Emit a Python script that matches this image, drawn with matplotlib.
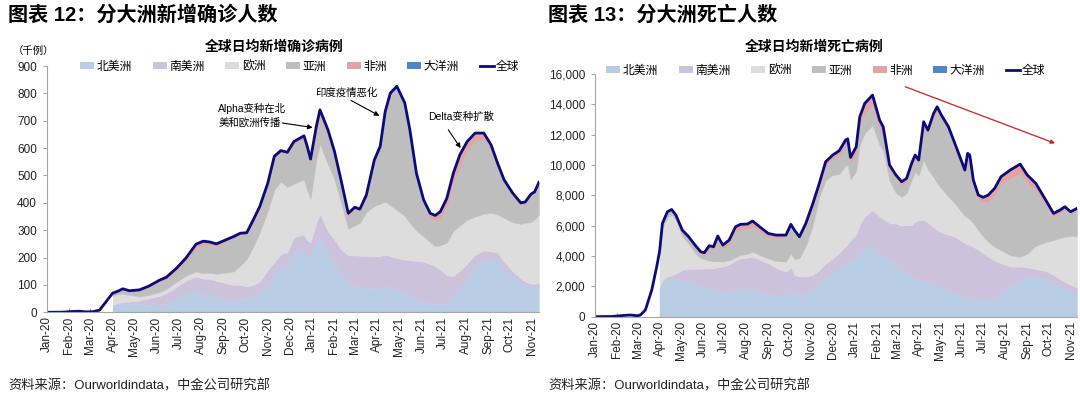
import matplotlib
matplotlib.use("Agg")
import matplotlib.pyplot as plt
import matplotlib.dates as mdates
from matplotlib.patches import Patch
from matplotlib.lines import Line2D
from matplotlib.ticker import FuncFormatter, MultipleLocator
import pandas as pd

plt.rcParams['font.family'] = ['Liberation Sans', 'Noto Sans CJK SC', 'DejaVu Sans']

# ---------------- new cases (thousands) ----------------
cases_pre_dates = ["2020-01-01", "2020-01-22", "2020-02-05", "2020-02-15", "2020-02-25",
                   "2020-03-05", "2020-03-14", "2020-03-23"]
cases_pre_global = [0, 0.5, 3, 4, 1.5, 2.5, 8, 39]

cases_dates = [
    "2020-04-01", "2020-04-08", "2020-04-15", "2020-04-24", "2020-05-08", "2020-05-21",
    "2020-06-05", "2020-06-14", "2020-06-28", "2020-07-11", "2020-07-25", "2020-08-04",
    "2020-08-13", "2020-08-22", "2020-09-06", "2020-09-15", "2020-09-24", "2020-10-03",
    "2020-10-12", "2020-10-21", "2020-11-01", "2020-11-10", "2020-11-19", "2020-11-28",
    "2020-12-07", "2020-12-21", "2020-12-25", "2020-12-30", "2021-01-07", "2021-01-12",
    "2021-01-23", "2021-02-01", "2021-02-10", "2021-02-20", "2021-03-01", "2021-03-08",
    "2021-03-17", "2021-03-28", "2021-04-05", "2021-04-12", "2021-04-19", "2021-04-28",
    "2021-05-09", "2021-05-16", "2021-05-25", "2021-06-04", "2021-06-13", "2021-06-20",
    "2021-06-27", "2021-07-06", "2021-07-15", "2021-07-24", "2021-08-03", "2021-08-14",
    "2021-08-26", "2021-09-05", "2021-09-14", "2021-09-23", "2021-10-05", "2021-10-16",
    "2021-10-22", "2021-10-30", "2021-11-04", "2021-11-10"]
cases_global = [70, 77, 86, 79, 82, 96, 118, 128, 161, 198, 249, 260, 257, 250, 267, 277, 289,
                291, 338, 387, 472, 570, 591, 585, 624, 645, 610, 560,
                680, 740, 667, 588, 484, 362, 384, 377, 429, 557, 606, 734, 801, 826, 765, 667,
                509, 411, 362, 354, 368, 417, 509, 576, 624, 655, 655, 612, 545, 484, 435, 400,
                403, 432, 440, 475]
cases_na = [25, 31, 32, 32, 29, 26, 25, 30, 48, 66, 75, 65, 62, 55, 45, 42, 48, 50, 55, 68,
            110, 140, 170, 170, 220, 230, 210, 200,
            255, 275, 210, 180, 140, 110, 100, 95, 90, 88, 90, 94, 90, 82, 72, 63, 50, 39, 32,
            28, 30, 40, 55, 90, 130, 170, 190, 192, 190, 160, 130, 110, 100, 92, 90, 92]
cases_sa = [2, 3, 5, 7, 14, 25, 35, 40, 45, 50, 55, 58, 60, 60, 60, 58, 52, 45, 45, 45,
            45, 42, 43, 48, 55, 55, 54, 55,
            72, 85, 85, 86, 90, 98, 108, 112, 116, 116, 116, 116, 116, 116, 120, 128, 138, 146,
            145, 140, 125, 95, 78, 62, 48, 40, 36, 31, 28, 24, 19, 13, 12, 13, 14, 15]
cases_eu = [32, 33, 30, 25, 15, 12, 14, 15, 18, 18, 19, 20, 22, 26, 40, 50, 70, 100, 140, 180,
            215, 265, 265, 240, 195, 200, 185, 160,
            230, 255, 245, 219, 170, 97, 110, 120, 160, 185, 190, 195, 185, 176, 160, 135, 110,
            92, 80, 73, 90, 120, 165, 165, 160, 140, 134, 140, 140, 160, 180, 200, 215, 225,
            235, 250]
cases_as = [10, 9, 18, 13, 21, 30, 39, 37, 41, 52, 86, 105, 103, 101, 116, 122, 114, 91, 93, 89,
            96, 117, 107, 120, 145, 148, 148, 131,
            101, 99, 105, 85, 70, 46, 57, 42, 55, 160, 202, 321, 403, 446, 407, 335, 204, 124,
            90, 95, 101, 134, 176, 221, 254, 277, 273, 234, 175, 131, 100, 72, 72, 98, 97, 114]
cases_af = [1, 1, 1.2, 1.5, 2.5, 3, 5, 6, 9, 12, 14, 12, 10, 8, 6, 5, 5, 5, 5, 5,
            6, 6, 6, 7, 9, 12, 13, 14,
            22, 26, 22, 18, 14, 11, 9, 8, 8, 8, 8, 8, 7, 6, 6, 6, 7, 10, 15, 18, 22, 28, 35, 38,
            32, 28, 22, 15, 12, 9, 6, 5, 4, 4, 4, 4]
cases_oc = [0.3, 0.3, 0.2, 0.1, 0.05, 0.02, 0.02, 0.02, 0.1, 0.2, 0.5, 0.6, 0.5, 0.3, 0.1, 0.05,
            0.03, 0.02, 0.02, 0.02, 0.02, 0.02, 0.02, 0.02, 0.05, 0.05, 0.05, 0.05,
            0.1, 0.1, 0.1, 0.1, 0.1, 0.1, 0.2, 0.3, 0.4, 0.4, 0.3, 0.2, 0.2, 0.2, 0.2, 0.2, 0.2,
            0.1, 0.1, 0.1, 0.1, 0.3, 0.6, 0.8, 1.0, 1.5, 1.8, 2.0, 2.2, 2.5, 2.6, 2.8, 2.7, 2.5,
            2.4, 2.3]

# ---------------- new deaths ----------------
deaths_pre_dates = ["2020-01-01", "2020-01-25", "2020-02-10", "2020-02-20", "2020-03-01",
                    "2020-03-05", "2020-03-12", "2020-03-21", "2020-03-28"]
deaths_pre_global = [0, 15, 80, 110, 60, 110, 440, 1760, 3300]

deaths_dates = [
    "2020-04-01", "2020-04-05", "2020-04-12", "2020-04-18", "2020-04-24", "2020-05-03",
    "2020-05-12", "2020-05-21", "2020-05-29", "2020-06-03", "2020-06-10", "2020-06-16",
    "2020-06-22", "2020-06-29", "2020-07-08", "2020-07-17", "2020-07-24", "2020-08-03",
    "2020-08-10", "2020-08-20", "2020-09-01", "2020-09-12", "2020-09-26", "2020-10-03",
    "2020-10-08", "2020-10-15", "2020-10-24", "2020-11-03", "2020-11-12", "2020-11-21",
    "2020-12-01", "2020-12-10", "2020-12-19", "2020-12-22", "2020-12-26",
    "2021-01-03", "2021-01-08", "2021-01-15", "2021-01-26", "2021-02-05", "2021-02-10",
    "2021-02-19", "2021-02-28", "2021-03-08", "2021-03-15", "2021-03-22", "2021-03-27",
    "2021-04-01", "2021-04-08", "2021-04-14", "2021-04-22", "2021-04-27", "2021-05-03",
    "2021-05-13", "2021-05-22", "2021-05-29", "2021-06-05", "2021-06-09", "2021-06-12",
    "2021-06-17", "2021-06-24", "2021-07-01", "2021-07-08", "2021-07-17", "2021-07-26",
    "2021-08-08", "2021-08-22", "2021-09-01", "2021-09-13", "2021-09-27", "2021-10-08",
    "2021-10-17", "2021-10-24", "2021-11-01", "2021-11-10"]
deaths_global = [4300, 6150, 6920, 7070, 6700, 5710, 5270, 4720, 4280, 4220, 4680, 4610, 5320,
                 4720, 5050, 5930, 6090, 6110, 6310, 5930, 5490, 5380, 5380, 6090, 5710, 5270,
                 6150, 7470, 8790, 10220, 10660, 10940, 11640, 11730, 10500,
                 11200, 13180, 14060, 14610, 12960, 12520, 10000, 9340, 8900, 9120, 10100,
                 10660, 10330, 12850, 12300, 13400, 13840, 13290, 12520, 11420, 10550, 9670,
                 10770, 10660, 9010, 8020, 7870, 8020, 8460, 9230, 9670, 10060, 9340, 8790,
                 7690, 6810, 7030, 7250, 6920, 7140]
deaths_na = [1800, 2300, 2500, 2530, 2500, 2420, 2300, 2150, 2000, 1980, 1850, 1750, 1700, 1650,
             1650, 1800, 1870, 1800, 1760, 1650, 1540, 1470, 1430, 1900, 1500, 1500, 1560, 1800,
             2200, 2600, 2900, 3200, 3500, 3600, 3730,
             3900, 4300, 4500, 4610, 4170, 4000, 3700, 3500, 3100, 2850, 2640, 2550, 2500, 2420,
             2300, 2100, 1980, 1850, 1700, 1540, 1400, 1300, 1260, 1240, 1210, 1150, 1100, 1150,
             1300, 1540, 2000, 2420, 2600, 2640, 2500, 2200, 2000, 1850, 1700, 1540]
deaths_sa = [100, 120, 150, 200, 350, 660, 850, 1000, 1150, 1210, 1350, 1450, 1550, 1650, 1800,
             1900, 1970, 2100, 2190, 2100, 1980, 1750, 1540, 1350, 1250, 1150, 1100, 950, 880,
             900, 950, 1000, 1150, 1200, 1320,
             1500, 1800, 2100, 2420, 2420, 2450, 2450, 2640, 2900, 3200, 3400, 3700, 3850, 3950,
             3900, 3800, 3730, 3700, 3700, 3730, 3650, 3550, 3500, 3480, 3400, 3250, 3070, 2800,
             2400, 1980, 1300, 880, 650, 500, 520, 550, 480, 430, 400, 380]
deaths_eu = [2200, 3400, 3900, 4000, 3500, 2200, 1650, 1050, 700, 600, 500, 450, 400, 330, 260,
             230, 220, 250, 330, 320, 320, 450, 660, 900, 1050, 1200, 2000, 3300, 4800, 5500,
             5500, 5200, 5300, 5200, 4000,
             4200, 5200, 5500, 5600, 4700, 4500, 2800, 2000, 1900, 2100, 2970, 3300, 2950, 3960,
             3500, 3300, 3080, 2900, 2500, 2200, 2000, 1800, 1750, 1700, 1540, 1300, 1100, 1000,
             900, 870, 750, 650, 900, 1530, 1900, 2300, 2700, 3000, 3200, 3400]
deaths_as = [170, 290, 320, 280, 280, 350, 380, 410, 300, 290, 820, 780, 1470, 860, 1070, 1680,
             1690, 1630, 1720, 1570, 1420, 1530, 1620, 1820, 1790, 1300, 1360, 1270, 740, 1020,
             1080, 1280, 1370, 1390, 1070,
             1150, 1330, 1340, 1320, 1070, 1020, 670, 950, 780, 750, 870, 890, 820, 2300, 2380,
             3980, 4830, 4630, 4420, 3750, 3300, 2810, 4040, 4010, 2610, 2020, 2270, 2650, 3360,
             4400, 5060, 5510, 4680, 3700, 2460, 1540, 1660, 1810, 1480, 1700]
deaths_af = [30, 40, 50, 60, 70, 80, 90, 110, 130, 140, 160, 180, 200, 230, 270, 320, 340, 320,
             300, 280, 220, 170, 130, 120, 120, 120, 130, 150, 170, 200, 230, 260, 320, 340, 380,
             450, 550, 620, 660, 600, 550, 380, 250, 220, 220, 220, 220, 210, 220, 220, 220, 220,
             210, 200, 200, 200, 210, 220, 230, 250, 300, 330, 420, 500, 440, 550, 590, 500, 400,
             280, 200, 160, 140, 120, 110]
deaths_oc = [2, 3, 4, 3, 2, 1, 0, 0, 0, 0, 0, 0, 0, 0, 0, 1, 2, 6, 10, 15, 15, 10, 5, 2, 2, 2, 2,
             2, 2, 1, 1, 1, 1, 1, 1,
             1, 1, 1, 1, 1, 1, 1, 1, 1, 1, 1, 1, 1, 1, 1, 1, 1, 1, 1, 1, 1, 1, 1, 1, 1, 1, 1, 1,
             2, 3, 5, 10, 15, 20, 25, 25, 25, 20, 15, 15]

labels = ["北美洲", "南美洲", "欧洲", "亚洲", "非洲", "大洋洲"]
colors = ["#B8CCE4", "#CDC2DC", "#DDDDDD", "#BEBEBE", "#E2A3A3", "#4F86C6"]
NAVY = "#0B0B7E"
AXIS_GREY = "#A6A6A6"
X_START, X_END = pd.Timestamp("2020-01-01"), pd.Timestamp("2021-11-10")


def draw_panel(ax, pre_dates, pre_total, dates, series, total):
    x = pd.to_datetime(dates)
    lower = [0.0] * len(dates)
    for vals, c in zip(series, colors):
        upper = [a + b for a, b in zip(lower, vals)]
        ax.fill_between(x, lower, upper, facecolor=c, edgecolor=c, lw=0.3, zorder=2)
        lower = upper
    ax.plot(pd.to_datetime(pre_dates + dates), pre_total + total,
            color=NAVY, lw=2.0, zorder=4, solid_joinstyle='round')

    ax.set_xlim(X_START, X_END)
    ax.xaxis.set_major_locator(mdates.MonthLocator())
    ax.xaxis.set_major_formatter(mdates.DateFormatter('%b-%y'))
    for s in ['top', 'right']:
        ax.spines[s].set_visible(False)
    for s in ['left', 'bottom']:
        ax.spines[s].set_color(AXIS_GREY)
        ax.spines[s].set_linewidth(0.8)
        ax.spines[s].set_zorder(5)
    ax.tick_params(axis='x', direction='in', length=3, color=AXIS_GREY,
                   labelsize=8.5, labelrotation=90, pad=3, labelcolor='#222222')
    ax.tick_params(axis='y', direction='out', length=3, color=AXIS_GREY,
                   labelsize=8.5, pad=4, labelcolor='#222222')


def add_legend(fig, cx, cy):
    handles = [Patch(facecolor=c, edgecolor='none') for c in colors]
    handles.append(Line2D([0], [0], color=NAVY, lw=2))
    fig.legend(handles, labels + ["全球"], loc='center', bbox_to_anchor=(cx, cy), ncol=7,
               frameon=False, fontsize=8.5, handlelength=1.2, handleheight=0.5,
               handletextpad=0.2, columnspacing=1.75, borderpad=0)


fig = plt.figure(figsize=(10.8, 3.97), dpi=100)

# ---- left: cases ----
ax1 = fig.add_axes([0.0432, 0.2133, 0.4558, 0.6204])
draw_panel(ax1, cases_pre_dates, cases_pre_global, cases_dates,
           [cases_na, cases_sa, cases_eu, cases_as, cases_af, cases_oc], cases_global)
ax1.set_ylim(0, 900)
ax1.yaxis.set_major_locator(MultipleLocator(100))

arrow_k = dict(arrowstyle='-|>', color='black', lw=0.8, mutation_scale=7, shrinkA=0, shrinkB=0)
ax1.text(pd.Timestamp("2020-08-25"), 720, "Alpha变种在北\n美和欧洲传播", fontsize=7.5,
         ha='left', va='center', linespacing=1.35, zorder=6)
ax1.annotate("", xy=(pd.Timestamp("2021-01-02"), 675), xytext=(pd.Timestamp("2020-11-21"), 692),
             arrowprops=arrow_k, zorder=6)
ax1.text(pd.Timestamp("2021-02-18"), 801, "印度疫情恶化", fontsize=7.5, ha='center', va='center')
ax1.annotate("", xy=(pd.Timestamp("2021-04-04"), 718), xytext=(pd.Timestamp("2021-02-24"), 774),
             arrowprops=arrow_k, zorder=6)
ax1.text(pd.Timestamp("2021-07-25"), 713, "Delta变种扩散", fontsize=7.5, ha='center', va='center')
ax1.annotate("", xy=(pd.Timestamp("2021-07-25"), 600), xytext=(pd.Timestamp("2021-07-08"), 667),
             arrowprops=arrow_k, zorder=6)

# ---- right: deaths ----
ax2 = fig.add_axes([0.5509, 0.2023, 0.4463, 0.6113])
draw_panel(ax2, deaths_pre_dates, deaths_pre_global, deaths_dates,
           [deaths_na, deaths_sa, deaths_eu, deaths_as, deaths_af, deaths_oc], deaths_global)
ax2.set_ylim(0, 16000)
ax2.yaxis.set_major_locator(MultipleLocator(2000))
ax2.yaxis.set_major_formatter(FuncFormatter(lambda v, p: f"{v:,.0f}"))
ax2.annotate("", xy=(pd.Timestamp("2021-10-10"), 11430), xytext=(pd.Timestamp("2021-03-13"), 15160),
             arrowprops=dict(arrowstyle='-|>', color='#D02020', lw=0.9, mutation_scale=6,
                             shrinkA=0, shrinkB=0), zorder=6)

# ---- texts ----
fig.text(8 / 1080, 1 - 15 / 397, "图表 12：分大洲新增确诊人数", fontsize=14.5, fontweight='bold',
         ha='left', va='center')
fig.text(548 / 1080, 1 - 15 / 397, "图表 13：分大洲死亡人数", fontsize=14.5, fontweight='bold',
         ha='left', va='center')
fig.text(274 / 1080, 1 - 47 / 397, "全球日均新增确诊病例", fontsize=10, fontweight='bold',
         ha='center', va='center')
fig.text(814 / 1080, 1 - 47 / 397, "全球日均新增死亡病例", fontsize=10, fontweight='bold',
         ha='center', va='center')
fig.text(13 / 1080, 1 - 51 / 397, "（千例）", fontsize=7.5, ha='left', va='center')
add_legend(fig, 300 / 1080, 1 - 67 / 397)
add_legend(fig, 826 / 1080, 1 - 71 / 397)
fig.text(8 / 1080, 1 - 386 / 397, "资料来源：Ourworldindata，中金公司研究部", fontsize=9.5,
         ha='left', va='center', color='#222222')
fig.text(548 / 1080, 1 - 386 / 397, "资料来源：Ourworldindata，中金公司研究部", fontsize=9.5,
         ha='left', va='center', color='#222222')

fig.savefig("out.png", dpi=100)
